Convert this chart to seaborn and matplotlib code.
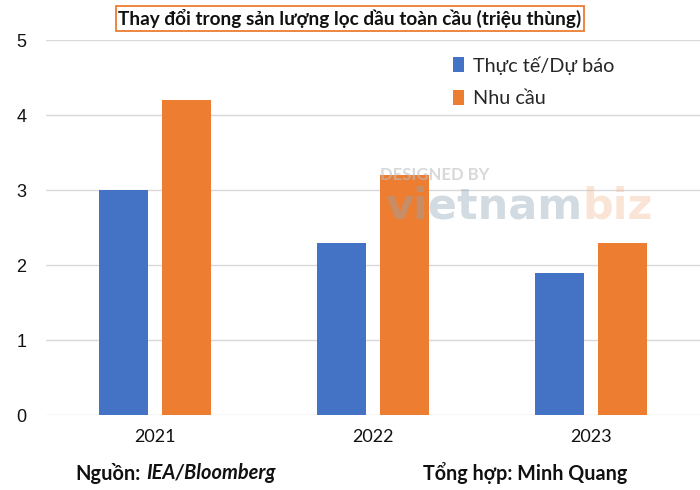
import matplotlib.pyplot as plt
import pandas as pd
import seaborn as sns
from matplotlib.patches import Patch

years = ["2021", "2022", "2023"]
actual = [3.0, 2.3, 1.9]
demand = [4.2, 3.2, 2.3]
series = ["Thực tế/Dự báo", "Nhu cầu"]
colors = ["#4472C4", "#ED7D31"]

df = pd.DataFrame({
    "year": years * 2,
    "value": actual + demand,
    "series": [series[0]] * 3 + [series[1]] * 3,
})

sns.set_theme(style="white")
plt.rcParams["font.family"] = ["Lato", "DejaVu Sans"]

fig = plt.figure(figsize=(7, 4.9), dpi=100)
ax = fig.add_axes([0.0657, 0.153, 0.9343, 0.765])

sns.barplot(data=df, x="year", y="value", hue="series", palette=colors,
            width=0.57, gap=0.21, saturation=1, linewidth=0, ax=ax,
            legend=False, zorder=2)

ax.set_ylim(0, 5)
ax.set_xlim(-0.5, 2.5)
ax.set_yticks(range(6))
ax.grid(axis="y", color="#d9d9d9", linewidth=1, zorder=0)
ax.set_axisbelow(True)
for s in ax.spines.values():
    s.set_visible(False)
ax.set_xlabel("")
ax.set_ylabel("")
ax.tick_params(axis="both", length=0, labelsize=13, colors="#111111")
ax.tick_params(axis="y", pad=14)
ax.tick_params(axis="x", pad=10)
for lab in ax.get_yticklabels():
    lab.set_family(["Liberation Sans", "DejaVu Sans"])

# legend
handles = [Patch(facecolor=c, edgecolor="none") for c in colors]
ax.legend(handles, series, loc="upper left", bbox_to_anchor=(0.622, 0.922),
          bbox_transform=fig.transFigure, frameon=False, fontsize=14.3,
          handlelength=0.55, handleheight=0.75, handletextpad=0.45,
          labelspacing=0.78)

# title in orange box
fig.text(0.5, 0.962, "Thay đổi trong sản lượng lọc dầu toàn cầu (triệu thùng)",
         ha="center", va="center", fontsize=13.7, fontweight="bold",
         color="#111111",
         bbox=dict(boxstyle="square,pad=0.15", facecolor="white",
                   edgecolor="#ED7D31", linewidth=1.3))

renderer = fig.canvas.get_renderer()


def after(t, gap=0.0):
    bb = t.get_window_extent(renderer=renderer)
    return bb.x1 / fig.bbox.width + gap


# footer
t = fig.text(0.107, 0.034, "Nguồn:", ha="left", va="center", fontsize=14.4,
             fontweight="bold", color="#111111")
fig.text(after(t, 0.008), 0.034, "IEA/Bloomberg", ha="left", va="center",
         fontsize=14.4, fontweight="bold", style="italic", color="#111111")
fig.text(0.604, 0.034, "Tổng hợp: Minh Quang", ha="left", va="center",
         fontsize=14.2, fontweight="bold", color="#111111")

# watermark
fig.text(0.543, 0.643, "DESIGNED BY", ha="left", va="center", fontsize=12,
         color="#bfbfbf", alpha=0.6, zorder=5, fontweight="bold")
t = fig.text(0.55, 0.578, "vietnam", ha="left", va="center", fontsize=31,
             fontweight="bold", color="#8fa7b8", alpha=0.4, zorder=5,
             family=["DejaVu Sans"])
fig.text(after(t), 0.578, "biz", ha="left", va="center", fontsize=31,
         fontweight="bold", color="#f2b48a", alpha=0.35, zorder=5,
         family=["DejaVu Sans"])

fig.savefig("out.png", dpi=100)
